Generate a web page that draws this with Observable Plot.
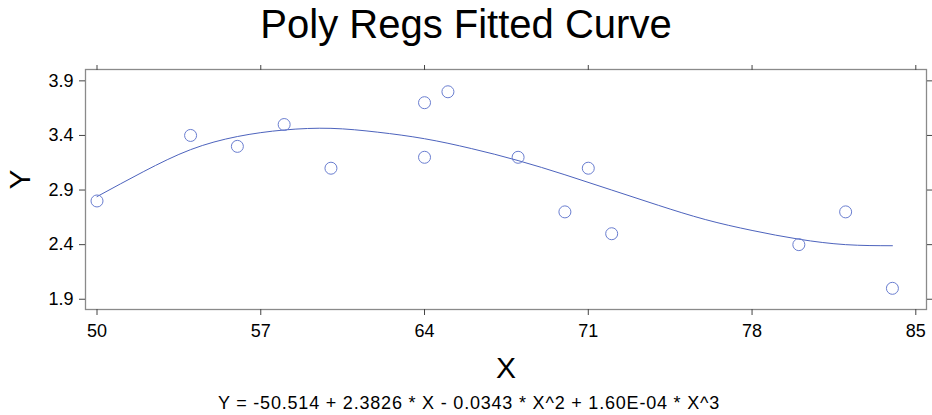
<!DOCTYPE html>
<html>
<head>
<meta charset="utf-8">
<script src="https://cdn.jsdelivr.net/npm/d3@7"></script>
<script src="https://cdn.jsdelivr.net/npm/@observablehq/plot@0.6"></script>
<style>
  html, body { margin: 0; padding: 0; background: #fff; }
  #wrap { width: 932px; height: 415px; overflow: hidden; font-family: "Liberation Sans", Arial, sans-serif; color: #000; }
  #title { height: 48px; line-height: 48px; font-size: 40px; text-align: center; white-space: nowrap; }
  #caption { height: 22px; line-height: 22px; font-size: 18px; letter-spacing: 0.8px; text-align: center; white-space: nowrap; padding-left: 6px; box-sizing: border-box; }
  #chart svg { display: block; }
</style>
</head>
<body>
<div id="wrap">
  <div id="title">Poly Regs Fitted Curve</div>
  <div id="chart"></div>
  <div id="caption">Y = -50.514 + 2.3826 * X - 0.0343 * X^2 + 1.60E-04 * X^3</div>
</div>
<script>
// ---- data ----
const xTicks = [50, 57, 64, 71, 78, 85];
const yTicks = [1.9, 2.4, 2.9, 3.4, 3.9];

const pointX = [50, 54, 56, 58, 60, 64, 64, 65, 68, 70, 71, 72, 80, 82, 84];
const pointY = [2.8, 3.4, 3.3, 3.5, 3.1, 3.7, 3.2, 3.8, 3.2, 2.7, 3.1, 2.5, 2.4, 2.7, 2.0];

const curveX = [50, 52, 54, 56, 58, 60, 62, 64, 66, 68, 70, 72, 74, 76, 78, 80, 82, 84];
const curveY = [2.84, 3.07, 3.27, 3.39, 3.45, 3.465, 3.43, 3.37, 3.28, 3.17, 3.04, 2.90, 2.76, 2.63, 2.53, 2.45, 2.40, 2.39];

const xLabel = "X";
const yLabel = "Y";

// ---- tables built from the arrays ----
const points = pointX.map((x, i) => ({x, y: pointY[i]}));
const curve = curveX.map((x, i) => ({x, y: curveY[i]}));

const font = "Liberation Sans, Arial, sans-serif";

const chart = Plot.plot({
  width: 932,
  height: 344,
  marginLeft: 85,
  marginRight: 6,
  marginTop: 21,
  marginBottom: 83,
  style: {fontFamily: font, fontSize: "18px", background: "white", color: "black", overflow: "visible"},
  x: {domain: [49.508, 85.457]},
  y: {domain: [1.806, 4.004]},
  marks: [
    Plot.frame({stroke: "#8a8a8a", strokeWidth: 1.3}),
    Plot.axisX({anchor: "bottom", ticks: xTicks, tickSize: 6, tickPadding: 9, stroke: "#444", fontSize: 18, label: null, tickFormat: d => String(d)}),
    Plot.axisX({anchor: "top", ticks: xTicks, tickSize: 5, stroke: "#444", label: null, tickFormat: () => ""}),
    Plot.axisY({anchor: "left", ticks: yTicks, tickSize: 6, tickPadding: 6, stroke: "#444", fontSize: 18, label: null, tickFormat: d3.format(".1f")}),
    Plot.axisY({anchor: "right", ticks: yTicks, tickSize: 6, stroke: "#444", label: null, tickFormat: () => ""}),
    Plot.line(curve, {x: "x", y: "y", stroke: "#4d63bd", strokeWidth: 1, curve: "natural"}),
    Plot.dot(points, {x: "x", y: "y", r: 6, stroke: "#6a7ed0", strokeWidth: 1, fill: "none"}),
    Plot.text([yLabel], {frameAnchor: "left", dx: -65, rotate: -90, fontSize: 30, lineAnchor: "middle", fill: "black"}),
    Plot.text([xLabel], {frameAnchor: "bottom", dy: 59, fontSize: 30, lineAnchor: "middle", fill: "black"})
  ]
});
document.getElementById("chart").appendChild(chart);
</script>
</body>
</html>
